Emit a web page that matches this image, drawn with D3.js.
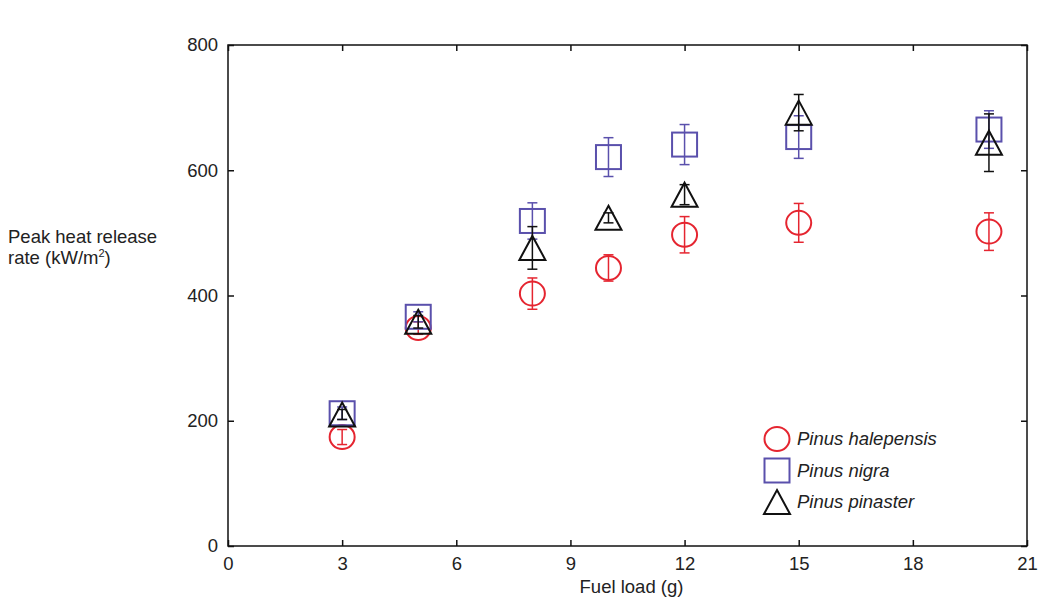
<!DOCTYPE html>
<html>
<head>
<meta charset="utf-8">
<script src="https://cdn.jsdelivr.net/npm/d3@7"></script>
<style>
  body { margin: 0; background: #fff; }
  text { font-family: "Liberation Sans", Arial, sans-serif; fill: #222; }
</style>
</head>
<body>
<div id="chart"></div>
<script>
// fuel loads (g)
const fuelLoads = [3, 5, 8, 10, 12, 15, 20];

// peak heat release rate (kW/m2) and error half-widths per species
const halepensis = [174, 348, 403, 444, 497, 516, 502];
const halepensisErr = [12, 10, 25, 21, 29, 31, 30];
const nigra = [212, 366, 519, 621, 641, 653, 665];
const nigraErr = [10, 8, 29, 31, 32, 34, 30];
const pinaster = [210, 358, 476, 524, 561, 692, 644];
const pinasterErr = [8, 10, 34, 8, 16, 29, 46];

const seriesNames = ['Pinus halepensis', 'Pinus nigra', 'Pinus pinaster'];
const xTicks = [0, 3, 6, 9, 12, 15, 18, 21];
const yTicks = [0, 200, 400, 600, 800];

const width = 1038, height = 599;
const margin = {left: 228, right: 11, top: 45, bottom: 53};
const fontSize = '18.5px';

const svg = d3.select('#chart').append('svg')
    .attr('width', width)
    .attr('height', height);

const x = d3.scaleLinear().domain([0, 21]).range([margin.left, width - margin.right]);
const y = d3.scaleLinear().domain([0, 800]).range([height - margin.bottom, margin.top]);

// frame
svg.append('rect')
    .attr('x', x(0)).attr('y', y(800))
    .attr('width', x(21) - x(0)).attr('height', y(0) - y(800))
    .attr('fill', 'none').attr('stroke', '#111').attr('stroke-width', 1.5);

// axes with inward ticks on all four sides
const tickLen = 6;
svg.append('g').attr('transform', `translate(0,${y(0)})`)
    .call(d3.axisBottom(x).tickValues(xTicks).tickSize(-tickLen).tickPadding(11))
    .call(g => g.select('.domain').remove());
svg.append('g').attr('transform', `translate(0,${y(800)})`)
    .call(d3.axisTop(x).tickValues(xTicks).tickSize(-tickLen).tickFormat(''))
    .call(g => g.select('.domain').remove());
svg.append('g').attr('transform', `translate(${x(0)},0)`)
    .call(d3.axisLeft(y).tickValues(yTicks).tickSize(-tickLen).tickPadding(10))
    .call(g => g.select('.domain').remove());
svg.append('g').attr('transform', `translate(${x(21)},0)`)
    .call(d3.axisRight(y).tickValues(yTicks).tickSize(-tickLen).tickFormat(''))
    .call(g => g.select('.domain').remove());

svg.selectAll('.tick line').attr('stroke', '#111').attr('stroke-width', 1.5);
svg.selectAll('.tick text')
    .style('font-size', fontSize)
    .style('font-family', '"Liberation Sans", Arial, sans-serif')
    .attr('fill', '#222');

// axis titles
svg.append('text')
    .attr('x', (x(0) + x(21)) / 2 + 4).attr('y', 593)
    .attr('text-anchor', 'middle')
    .style('font-size', fontSize)
    .text('Fuel load (g)');

const yTitle = svg.append('text')
    .attr('x', 8).attr('y', 243)
    .style('font-size', fontSize);
yTitle.append('tspan').attr('x', 8).text('Peak heat release');
const line2 = yTitle.append('tspan').attr('x', 8).attr('dy', 21).text('rate (kW/m');
line2.append('tspan').attr('dy', -7).style('font-size', '11px').text('2');
line2.append('tspan').attr('dy', 7).text(')');

// marker shapes
const markerW = 25, markerH = 24;
function triPath(w, h) {
    return `M0,${-h / 2}L${w / 2},${h / 2}L${-w / 2},${h / 2}Z`;
}

const series = [
    {name: seriesNames[0], values: halepensis, err: halepensisErr, color: '#e52530', shape: 'circle'},
    {name: seriesNames[1], values: nigra, err: nigraErr, color: '#5a50ac', shape: 'square'},
    {name: seriesNames[2], values: pinaster, err: pinasterErr, color: '#111', shape: 'triangle'}
];

function drawMarker(g, shape, color) {
    if (shape === 'circle') {
        g.append('ellipse').attr('rx', markerW / 2).attr('ry', markerH / 2);
    } else if (shape === 'square') {
        g.append('rect').attr('x', -markerW / 2).attr('y', -markerH / 2)
            .attr('width', markerW).attr('height', markerH);
    } else {
        g.append('path').attr('d', triPath(markerW + 1, markerH));
    }
    g.selectAll('ellipse, rect, path')
        .attr('fill', 'none').attr('stroke', color).attr('stroke-width', 2);
}

const capW = 5;
series.forEach(s => {
    const pts = fuelLoads.map((f, i) => ({x: f, v: s.values[i], e: s.err[i]}));
    const grp = svg.append('g').attr('class', 'series');

    const pt = grp.selectAll('g.pt')
        .data(pts)
        .join('g')
        .attr('class', 'pt')
        .attr('transform', d => `translate(${x(d.x)},${y(d.v)})`);

    pt.each(function() { drawMarker(d3.select(this), s.shape, s.color); });

    // error bars
    pt.append('line')
        .attr('y1', d => y(d.v + d.e) - y(d.v))
        .attr('y2', d => y(d.v - d.e) - y(d.v))
        .attr('stroke', s.color).attr('stroke-width', 1.5);
    pt.append('line')
        .attr('x1', -capW).attr('x2', capW)
        .attr('y1', d => y(d.v + d.e) - y(d.v)).attr('y2', d => y(d.v + d.e) - y(d.v))
        .attr('stroke', s.color).attr('stroke-width', 1.5);
    pt.append('line')
        .attr('x1', -capW).attr('x2', capW)
        .attr('y1', d => y(d.v - d.e) - y(d.v)).attr('y2', d => y(d.v - d.e) - y(d.v))
        .attr('stroke', s.color).attr('stroke-width', 1.5);
});

// legend
const legend = svg.append('g')
    .attr('transform', 'translate(777,439)')
    .selectAll('g')
    .data(series)
    .join('g')
    .attr('transform', (d, i) => `translate(0,${i * 31.5})`);

legend.each(function(d) { drawMarker(d3.select(this), d.shape, d.color); });
legend.append('text')
    .attr('x', 20).attr('y', 6)
    .style('font-size', fontSize)
    .style('font-style', 'italic')
    .text(d => d.name);
</script>
</body>
</html>
